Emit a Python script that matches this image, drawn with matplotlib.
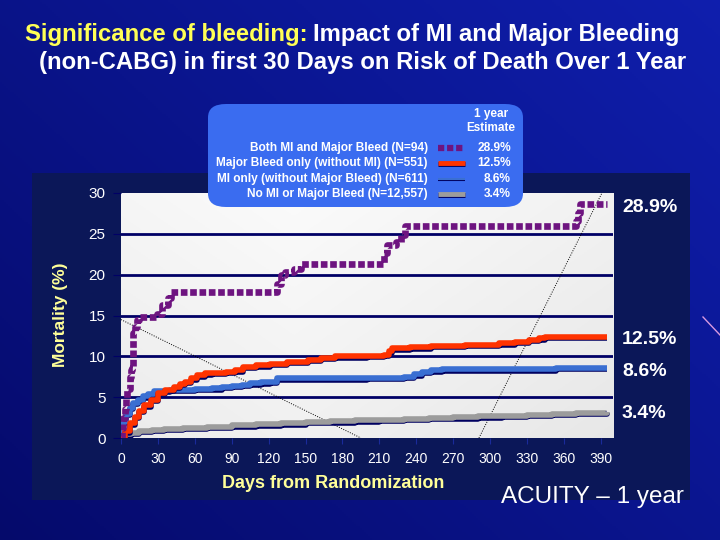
import numpy as np
import matplotlib
matplotlib.use("Agg")
import matplotlib.pyplot as plt
import matplotlib.patheffects as pe
from matplotlib.patches import FancyBboxPatch, Rectangle
from matplotlib.lines import Line2D

plt.rcParams['font.family'] = ['Liberation Sans', 'DejaVu Sans']

# ---------------- data ----------------
series_names = ["Both MI and Major Bleed (N=94)",
                "Major Bleed only (without MI) (N=551)",
                "MI only (without Major Bleed) (N=611)",
                "No MI or Major Bleed (N=12,557)"]
estimates = ["28.9%", "12.5%", "8.6%", "3.4%"]

purple_days = [0, 1, 2, 3, 4, 5, 7, 8, 9, 10, 11, 13, 15, 29, 33.6, 38, 41, 124, 127, 130,
               133, 141, 146, 213, 214, 216, 223.5, 228, 231, 370, 371.4, 373, 395]
purple_vals = [0, 1.2, 2.5, 3.5, 4.8, 6.0, 7.5, 8.3, 8.6, 12.8, 13.6, 14.5, 14.8, 15.2, 16.3,
               17.1, 17.9, 17.9, 18.9, 19.9, 20.3, 20.7, 21.3, 21.3, 22.6, 23.6, 24.0, 24.8,
               25.9, 26.6, 27.6, 28.7, 28.7]

red_days = [0, 3, 7, 11, 15, 19, 24, 30, 36, 43, 48, 52, 57, 62, 68, 74, 85, 93, 99, 110, 121,
            135, 152, 163, 174, 200, 214, 218, 220, 235, 252, 280, 307, 320, 332, 340, 345, 395]
red_vals = [0, 0.8, 1.8, 2.6, 3.3, 4.0, 4.7, 5.5, 5.9, 6.3, 6.6, 6.9, 7.3, 7.7, 7.9, 8.0, 8.1,
            8.3, 8.7, 8.9, 9.1, 9.3, 9.6, 9.8, 10.0, 10.1, 10.2, 10.6, 11.0, 11.1, 11.3, 11.4,
            11.6, 11.8, 12.0, 12.2, 12.4, 12.4]

blue_days = [0, 2, 4, 7, 10, 14, 18, 22, 27, 33, 40, 60, 74, 82, 90, 98, 105, 114, 121, 127,
             150, 183, 200, 230, 238, 245, 252, 261, 339, 354, 395]
blue_vals = [0, 2.0, 3.0, 3.7, 4.3, 4.7, 5.1, 5.4, 5.7, 5.8, 5.9, 6.0, 6.1, 6.3, 6.4, 6.5, 6.7,
             6.8, 6.9, 7.3, 7.3, 7.3, 7.4, 7.5, 7.8, 8.1, 8.3, 8.4, 8.4, 8.6, 8.6]

gray_days = [0, 3, 8, 15, 25, 35, 50, 70, 90, 110, 130, 150, 170, 190, 210, 230, 250, 270,
             290, 310, 330, 350, 370, 395]
gray_vals = [0.2, 0.45, 0.65, 0.85, 1.0, 1.1, 1.25, 1.4, 1.55, 1.7, 1.8, 1.95, 2.05, 2.15,
             2.25, 2.35, 2.45, 2.55, 2.65, 2.75, 2.85, 2.95, 3.05, 3.2]

x_ticks = list(range(0, 391, 30))
y_ticks = [0, 5, 10, 15, 20, 25, 30]

# ---------------- figure / background ----------------
fig = plt.figure(figsize=(7.2, 5.4), dpi=100)
bg = fig.add_axes([0, 0, 1, 1])
bg.set_axis_off()
yy, xx = np.mgrid[0:1:270j, 0:1:360j]
t = np.clip(0.55 * xx + 0.45 * (1 - yy), 0, 1)
c0 = np.array([0.02, 0.04, 0.42])
c1 = np.array([0.06, 0.12, 0.68])
img = c0[None, None, :] * (1 - t[..., None]) + c1[None, None, :] * t[..., None]
bg.imshow(img, extent=[0, 1, 0, 1], aspect='auto', origin='upper')
bg.set_xlim(0, 1)
bg.set_ylim(0, 1)
# dark chart frame
bg.add_patch(Rectangle((32 / 720, 1 - 500 / 540), (690 - 32) / 720, (500 - 173) / 540,
                       facecolor='#0b1758', edgecolor='none', zorder=2))
# decorative streak
bg.add_line(Line2D([703 / 720, 720 / 720], [1 - 317 / 540, 1 - 335 / 540],
                   color='#d99ae0', lw=1, zorder=2))

# ---------------- title ----------------
tfs = 17.2
t1a = fig.text(25 / 720, 1 - 35 / 540, "Significance of bleeding:", color='#ffff55',
               fontsize=tfs, fontweight='bold', va='center', ha='left')
fig.canvas.draw()
bb = t1a.get_window_extent()
fig.text(bb.x1 / 720 + 0.008, 1 - 35 / 540, "Impact of MI and Major Bleeding", color='white',
         fontsize=tfs, fontweight='bold', va='center', ha='left')
fig.text(363 / 720, 1 - 63 / 540, "(non-CABG) in first 30 Days on Risk of Death Over 1 Year",
         color='white', fontsize=tfs, fontweight='bold', va='center', ha='center')

# ---------------- main axes ----------------
ax = fig.add_axes([121 / 720, 1 - 438 / 540, (613 - 121) / 720, (438 - 193) / 540])
ax.set_xlim(0, 400)
ax.set_ylim(0, 30)
gy, gx = np.mgrid[0:1:100j, 0:1:200j]
shade = np.clip(0.25 * gy + 0.35 * np.abs(gx - 0.35) + 0.1, 0, 1)
pa = np.ones((100, 200, 3)) * (1 - 0.16 * shade[..., None])
ax.imshow(pa, extent=[0, 400, 0, 30], aspect='auto', origin='upper', zorder=0)
ax.set_facecolor('white')

for g in [5, 10, 15, 20, 25]:
    ax.axhline(g, color='#000066', lw=2, zorder=1)

for s in ax.spines.values():
    s.set_visible(False)

ax.set_xticks(x_ticks)
ax.set_yticks(y_ticks)
ax.tick_params(axis='x', colors='#1a2a9a', labelcolor='white', labelsize=10, length=4,
               direction='out', pad=6)
ax.tick_params(axis='y', colors='#000066', labelcolor='white', labelsize=11, length=6,
               direction='out', pad=5)

# decorative dotted guide lines from the slide
guide_a = ([0, 195], [14.5, 0])
guide_b = ([291, 391], [0, 30])
ax.plot(*guide_a, color='black', lw=0.7, ls=(0, (1, 1.5)), zorder=2)
ax.plot(*guide_b, color='black', lw=0.7, ls=(0, (1, 1.5)), zorder=2)

shadow = [pe.SimpleLineShadow(offset=(0, -1.0), shadow_color='#000060', alpha=1), pe.Normal()]
ax.plot(gray_days, gray_vals, drawstyle='steps-post', color='#9c9c9c', lw=4, zorder=3,
        path_effects=shadow, solid_capstyle='butt')
ax.plot(blue_days, blue_vals, drawstyle='steps-post', color='#3a6fd2', lw=4, zorder=4,
        path_effects=shadow, solid_capstyle='butt')
ax.plot(red_days, red_vals, drawstyle='steps-post', color='#ff3300', lw=4, zorder=5,
        path_effects=shadow, solid_capstyle='butt')
ax.plot(purple_days, purple_vals, drawstyle='steps-post', color='#6e1480', lw=4.8, zorder=6,
        ls=(0, (1.0, 0.4)), dash_capstyle='butt')

ax.set_xlabel("Days from Randomization", color='#ffff99', fontsize=13, fontweight='bold')
ax.xaxis.set_label_coords((333 - 121) / (613 - 121), -(475 - 438) / (438 - 193))
ax.set_ylabel("Mortality (%)", color='#ffff99', fontsize=12.5, fontweight='bold')
ax.yaxis.set_label_coords(-(121 - 68) / (613 - 121), (438 - 315) / (438 - 193))

# right-side end labels
end_y = [207, 340, 372, 413]
for lab, y in zip(estimates, end_y):
    fig.text(622 / 720, 1 - y / 540, lab, color='white', fontsize=14, fontweight='bold',
             va='center', ha='left')

fig.text(592 / 720, 1 - 497 / 540, "ACUITY – 1 year", color='white', fontsize=17.5,
         va='center', ha='center')

# ---------------- legend box ----------------
box = FancyBboxPatch((208 / 720, 1 - 207 / 540), (523 - 208) / 720, (207 - 104) / 540,
                     boxstyle="round,pad=0,rounding_size=0.025", transform=fig.transFigure,
                     facecolor='#3a6cf0', edgecolor='none', zorder=20)
fig.add_artist(box)
fig.text(491 / 720, 1 - 114 / 540, "1 year", color='white', fontsize=8.5, fontweight='bold',
         ha='center', va='center', zorder=21)
fig.text(491 / 720, 1 - 128 / 540, "Estimate", color='white', fontsize=8.5, fontweight='bold',
         ha='center', va='center', zorder=21)
row_y = [148, 163, 179, 194]
styles = [dict(color='#6e1480', lw=4.5, ls=(0, (1.0, 0.45)), dash_capstyle='butt'),
          dict(color='#ff3300', lw=3.5, path_effects=shadow, solid_capstyle='butt'),
          dict(color='#3a6fd2', lw=1.5, path_effects=shadow, solid_capstyle='butt'),
          dict(color='#9c9c9c', lw=3.5, path_effects=shadow, solid_capstyle='butt')]
for name, est, y, st in zip(series_names, estimates, row_y, styles):
    fig.text(428 / 720, 1 - y / 540, name, color='white', fontsize=8.6, fontweight='bold',
             ha='right', va='center', zorder=21)
    fig.text(511 / 720, 1 - y / 540, est, color='white', fontsize=8.6, fontweight='bold',
             ha='right', va='center', zorder=21)
    fig.add_artist(Line2D([438 / 720, 465 / 720], [1 - y / 540, 1 - y / 540],
                          transform=fig.transFigure, zorder=22, **st))

fig.savefig("out.png", dpi=100)
